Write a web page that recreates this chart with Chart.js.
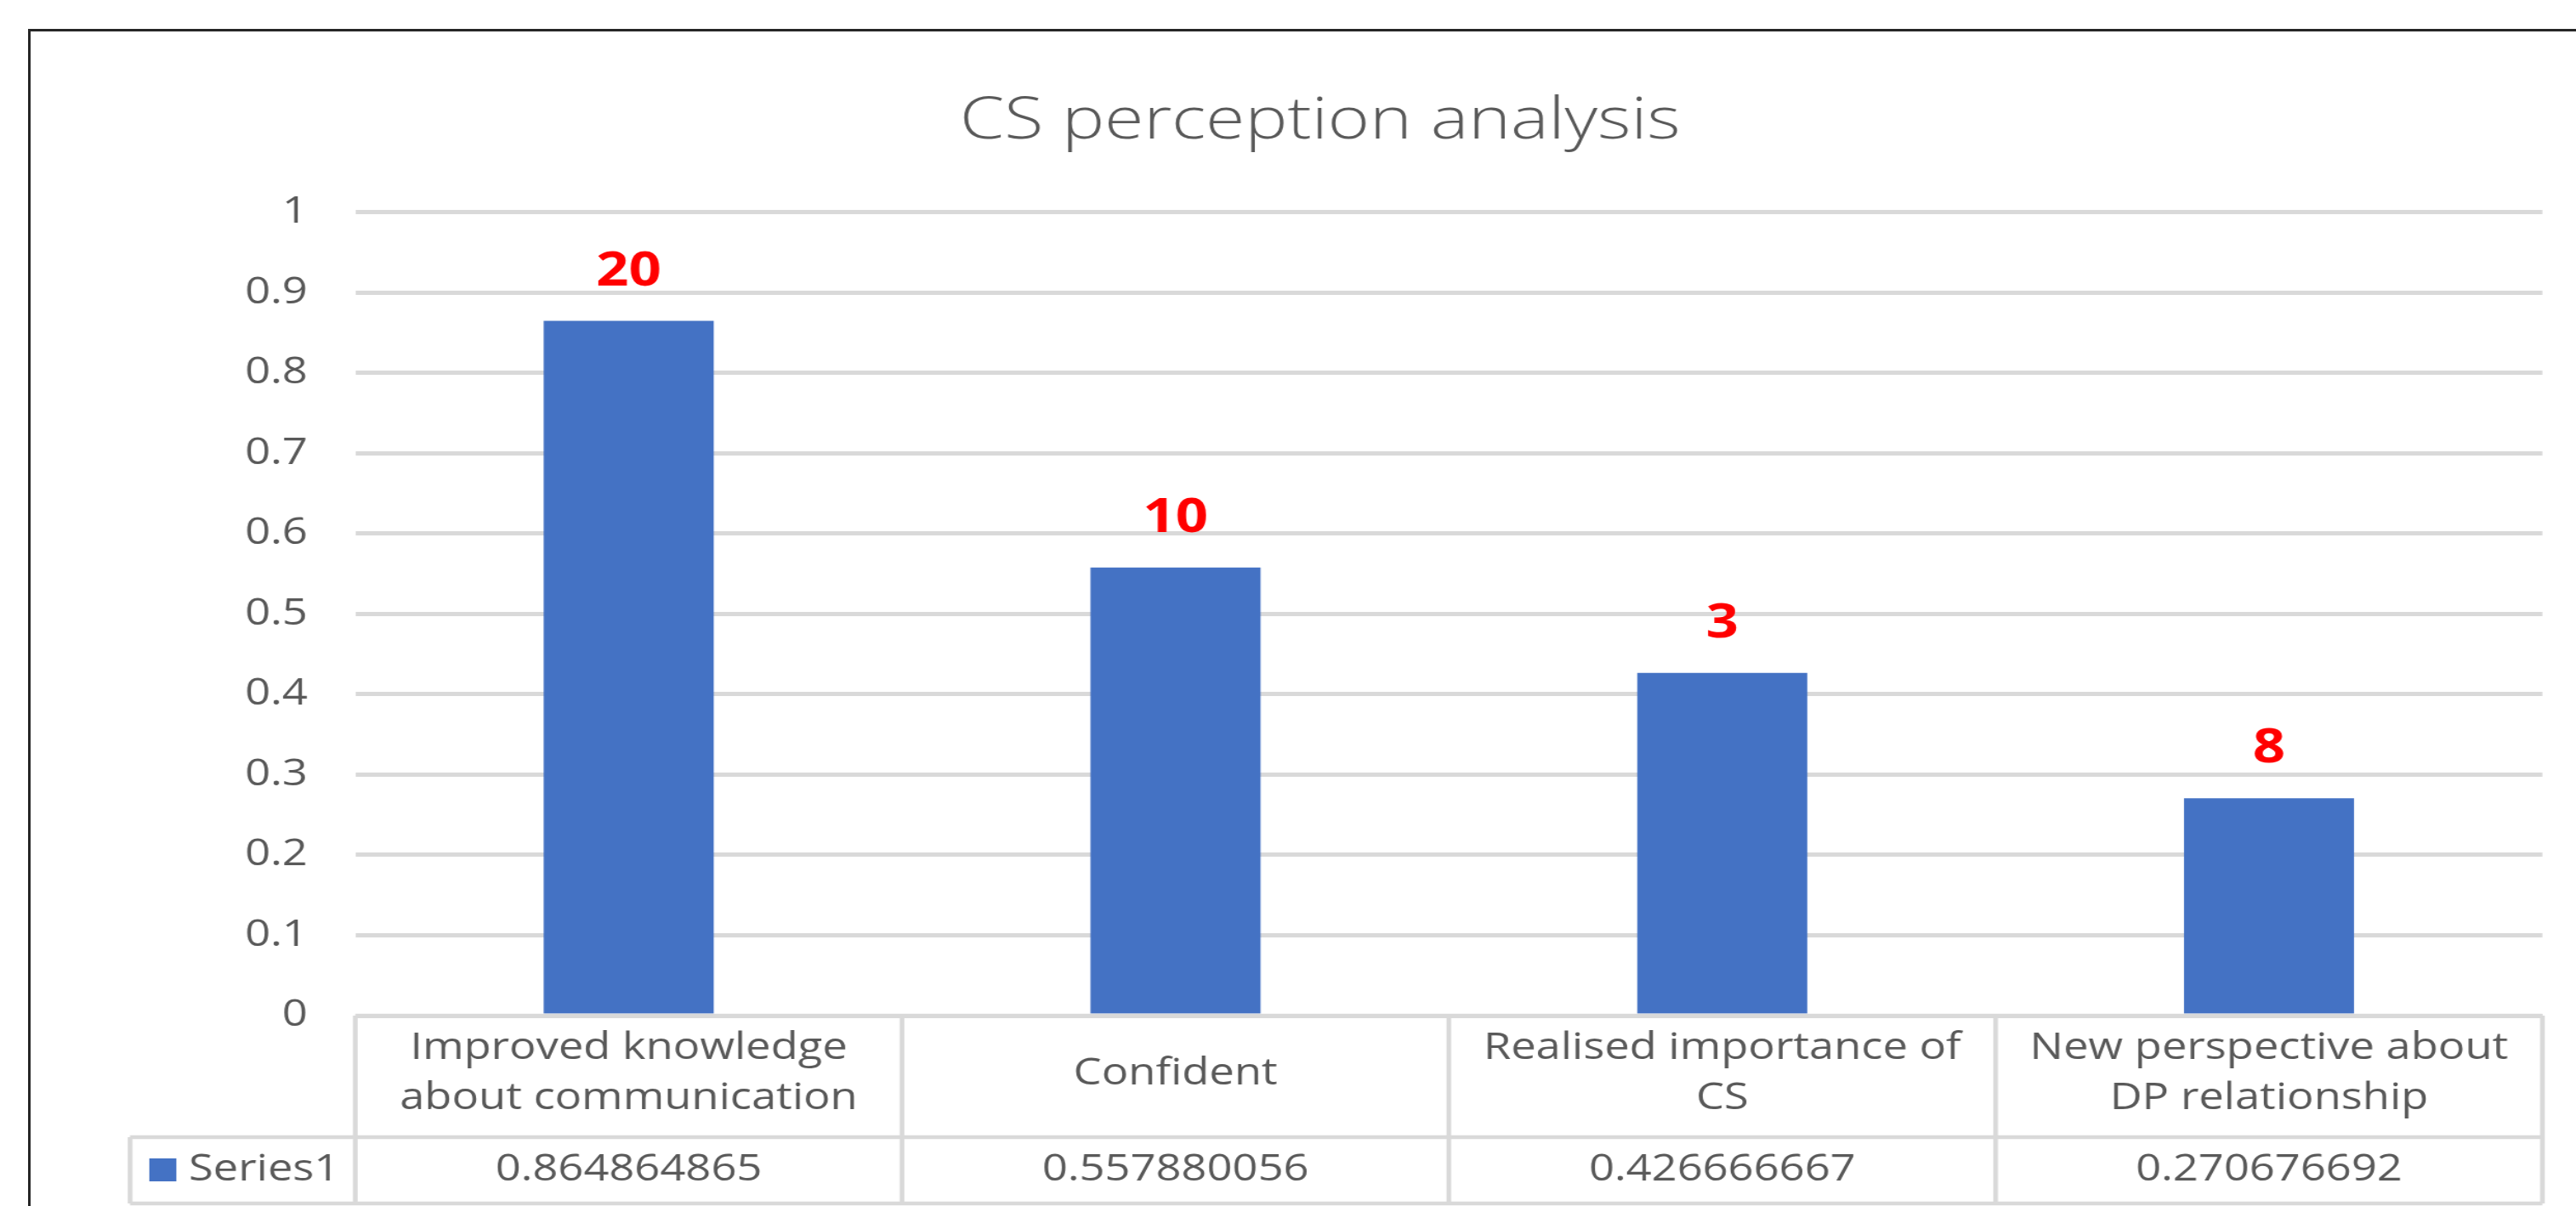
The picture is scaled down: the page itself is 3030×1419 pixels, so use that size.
<!DOCTYPE html>
<html>
<head>
<meta charset="utf-8">
<title>CS perception analysis</title>
<script src="https://cdn.jsdelivr.net/npm/chart.js@4.4.1/dist/chart.umd.min.js"></script>
<style>
    html, body { margin: 0; padding: 0; background: #fff; overflow: hidden; }
    body { width: 3030px; height: 1419px; position: relative; }
    .frame {
        position: absolute; left: 33px; top: 34px; right: 0; bottom: 0;
        border-top: 3px solid #262626; border-left: 3px solid #262626;
    }
    /* the source picture is stretched sideways, so the chart is drawn narrow and widened */
    .stretch {
        position: absolute; left: 0; top: 0; width: 2484px; height: 1419px;
        transform: scaleX(1.2198); transform-origin: 0 0;
    }
</style>
</head>
<body>
<div class="frame"></div>
<div class="stretch"><canvas id="perceptionChart"></canvas></div>
<script>
// chart data
const chartTitle = 'CS perception analysis';
const categories = [
    ['Improved knowledge', 'about communication'],
    ['Confident'],
    ['Realised importance of', 'CS'],
    ['New perspective about', 'DP relationship']
];
const seriesName = 'Series1';
const seriesValues = [0.864864865, 0.557880056, 0.426666667, 0.270676692];
const countLabels = [20, 10, 3, 8];
const yTickLabels = ['0', '0.1', '0.2', '0.3', '0.4', '0.5', '0.6', '0.7', '0.8', '0.9', '1'];
const yMin = 0;
const yMax = 1;
const yStep = 0.1;

const BAR_COLOR = '#4472C4';
const TEXT_COLOR = '#595959';
const LINE_COLOR = '#D9D9D9';
const FONT = "'Open Sans', 'DejaVu Sans', sans-serif";

Chart.defaults.font.family = FONT;
Chart.defaults.color = TEXT_COLOR;

// red count labels above the bars
const countLabelPlugin = {
    id: 'countLabels',
    afterDatasetsDraw(chart) {
        const ctx = chart.ctx;
        const bars = chart.getDatasetMeta(0).data;
        ctx.save();
        ctx.fillStyle = '#FF0000';
        ctx.font = `bold 55px ${FONT}`;
        ctx.textAlign = 'center';
        ctx.textBaseline = 'alphabetic';
        bars.forEach((bar, i) => {
            ctx.fillText(String(countLabels[i]), bar.x, bar.y - 42);
        });
        ctx.restore();
    }
};

// data table under the plot (categories + values + legend key)
const dataTablePlugin = {
    id: 'dataTable',
    afterDraw(chart) {
        const ctx = chart.ctx;
        const area = chart.chartArea;
        const n = categories.length;
        const cw = (area.right - area.left) / n;
        const top = area.bottom;
        const mid = top + 143;
        const bottom = top + 221;
        const legendLeft = 125.4;

        ctx.save();
        ctx.strokeStyle = LINE_COLOR;
        ctx.lineWidth = 4.5;
        ctx.beginPath();
        ctx.moveTo(area.left, top); ctx.lineTo(area.right, top);
        ctx.moveTo(legendLeft, mid); ctx.lineTo(area.right, mid);
        ctx.moveTo(legendLeft, bottom); ctx.lineTo(area.right, bottom);
        for (let i = 0; i <= n; i++) {
            const x = area.left + i * cw;
            ctx.moveTo(x, top); ctx.lineTo(x, bottom);
        }
        ctx.moveTo(legendLeft, mid); ctx.lineTo(legendLeft, bottom);
        ctx.stroke();

        ctx.fillStyle = TEXT_COLOR;
        ctx.font = `43px ${FONT}`;
        ctx.textAlign = 'center';
        ctx.textBaseline = 'middle';
        const rowMid1 = (top + mid) / 2;
        const rowMid2 = (mid + bottom) / 2;
        categories.forEach((lines, i) => {
            const cx = area.left + (i + 0.5) * cw;
            lines.forEach((line, k) => {
                ctx.fillText(line, cx, rowMid1 - 3 + (k - (lines.length - 1) / 2) * 59);
            });
            ctx.fillText(String(seriesValues[i]), cx, rowMid2);
        });

        // legend key
        ctx.fillStyle = BAR_COLOR;
        ctx.fillRect(144, rowMid2 - 14, 26, 27);
        ctx.fillStyle = TEXT_COLOR;
        ctx.textAlign = 'left';
        ctx.fillText(seriesName, 182, rowMid2);
        ctx.restore();
    }
};

function createChart() {
    const ctx = document.getElementById('perceptionChart').getContext('2d');
    return new Chart(ctx, {
        type: 'bar',
        data: {
            labels: categories,
            datasets: [{
                label: seriesName,
                data: seriesValues,
                backgroundColor: BAR_COLOR,
                borderWidth: 0,
                categoryPercentage: 1,
                barPercentage: 0.311
            }]
        },
        options: {
            responsive: true,
            maintainAspectRatio: false,
            devicePixelRatio: 1,
            animation: false,
            layout: {
                padding: { left: 94.4, right: 32.4, top: 0, bottom: 224 }
            },
            plugins: {
                legend: { display: false },
                tooltip: { enabled: false },
                title: {
                    display: true,
                    text: chartTitle,
                    color: TEXT_COLOR,
                    font: { size: 69, weight: '300', lineHeight: 1.2 },
                    padding: { top: 102, bottom: 65 }
                }
            },
            scales: {
                x: {
                    display: false
                },
                y: {
                    min: yMin,
                    max: yMax,
                    border: { display: false },
                    grid: {
                        color: LINE_COLOR,
                        lineWidth: 5,
                        drawTicks: false
                    },
                    ticks: {
                        stepSize: yStep,
                        padding: 46,
                        color: TEXT_COLOR,
                        font: { size: 43 },
                        callback: (value, index) => yTickLabels[index]
                    },
                    afterFit(scale) {
                        scale.width = 248.2;
                    }
                }
            }
        },
        plugins: [countLabelPlugin, dataTablePlugin]
    });
}

document.addEventListener('DOMContentLoaded', () => {
    createChart();
});
</script>
</body>
</html>
